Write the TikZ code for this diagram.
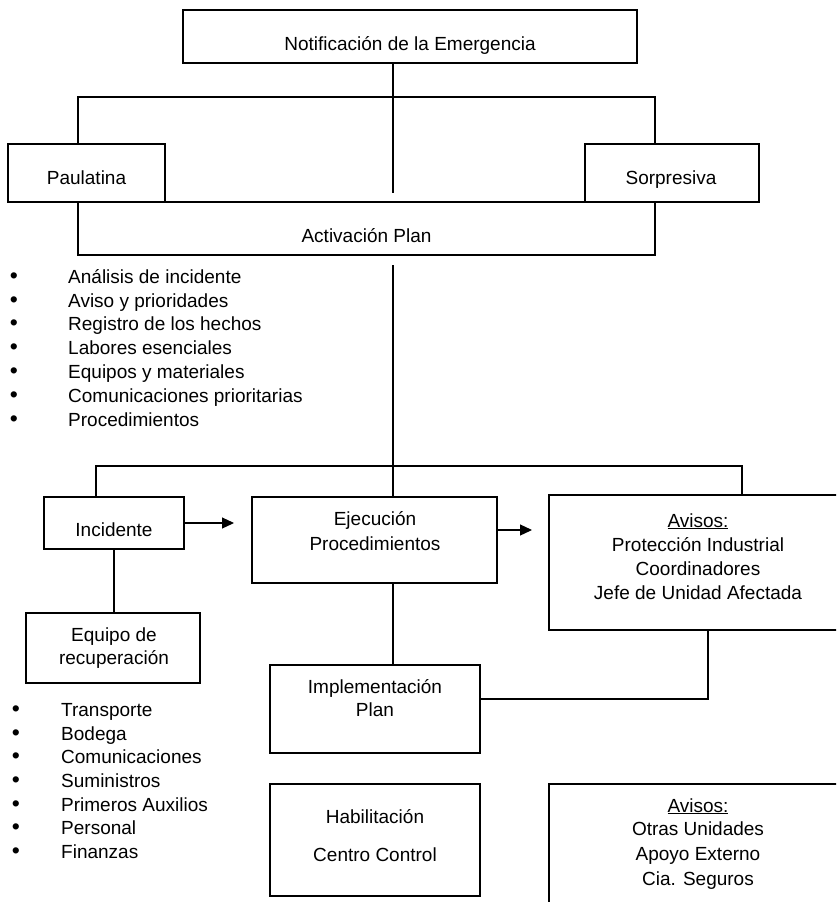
\documentclass[tikz,border=0pt]{standalone}
\usepackage{fontspec}
\setmainfont{Liberation Sans}
\usetikzlibrary{arrows.meta}
\begin{document}
\begin{tikzpicture}[x=1pt,y=-1pt,
  box/.style={draw, line width=1.3pt, inner sep=0pt, outer sep=0pt},
  conn/.style={draw, line width=1.2pt},
  arr/.style={conn, -{Triangle[length=12pt,width=11pt]}},
  lbl/.style={anchor=base, inner sep=0pt, font=\fontsize{19}{23}\selectfont},
  item/.style={anchor=base west, inner sep=0pt, font=\fontsize{19}{23}\selectfont},
  dot/.style={anchor=base, inner sep=0pt, font=\fontsize{23}{23}\selectfont}]
\useasboundingbox (0,0) rectangle (836,902);
\clip (0,0) rectangle (836,902);

% boxes
\node[box, minimum width=454pt, minimum height=53pt] (notif) at (410,36.5) {};
\node[box, minimum width=577pt, minimum height=53pt] (activ) at (366.5,228.5) {};
\node[box, minimum width=157pt, minimum height=58pt] (paul) at (86.5,173) {};
\node[box, minimum width=174pt, minimum height=58pt] (sorp) at (672,173) {};
\node[box, minimum width=140pt, minimum height=52pt] (inc) at (114,523) {};
\node[box, minimum width=245pt, minimum height=86pt] (ejec) at (374.5,540) {};
\node[box, minimum width=298pt, minimum height=135pt] (avis) at (698,562.5) {};
\node[box, minimum width=174pt, minimum height=70pt] (equipo) at (113,648) {};
\node[box, minimum width=210pt, minimum height=88pt] (impl) at (375,709) {};
\node[box, minimum width=210pt, minimum height=112pt] (habil) at (375,840) {};
\node[box, minimum width=298pt, minimum height=146pt] (avis2) at (698,857) {};

% connectors
\coordinate (stemA) at (393,193);
\coordinate (stemB) at (393,265);
\coordinate (forkL) at (78,97);
\coordinate (forkR) at (655,97);
\coordinate (fkL) at (96,466);
\coordinate (fkR) at (742,466);
\coordinate (a1) at (234,523);
\coordinate (a2) at (532,530);
\coordinate (elbow) at (708,699);

\draw[conn] (notif.south -| stemA) -- (stemA);
\draw[conn] (paul.north -| forkL) -- (forkL) -- (forkR) -- (sorp.north -| forkR);
\draw[conn] (stemB) -- (ejec.north -| stemB);
\draw[conn] (inc.north -| fkL) -- (fkL) -- (fkR) -- (avis.north -| fkR);
\draw[conn] (inc.south) -- (inc.south |- equipo.north);
\draw[arr] (inc.east |- a1) -- (a1);
\draw[arr] (ejec.east |- a2) -- (a2);
\draw[conn] (ejec.south -| stemB) -- (impl.north -| stemB);
\draw[conn] (impl.east |- elbow) -- (elbow) -- (avis.south -| elbow);

% box labels
\node[lbl] (tnotif) at (410,50) {Notificación de la Emergencia};
\node[lbl] (tpaul) at (86.5,184) {Paulatina};
\node[lbl] (tsorp) at (671,184) {Sorpresiva};
\node[lbl] (tactiv) at (366.5,242) {Activación Plan};
\node[lbl] (tinc) at (114,536.7) {Incidente};
\node[lbl] (tejec1) at (375,525) {Ejecución};
\node[lbl] (tejec2) at (375,550) {Procedimientos};
\node[lbl] (tavis1) at (698,527) {\underline{Avisos:}};
\node[lbl] (tavis2) at (698,551) {Protección Industrial};
\node[lbl] (tavis3) at (698,575) {Coordinadores};
\node[lbl] (tavis4) at (698,599) {Jefe de Unidad Afectada};
\node[lbl] (tequipo1) at (114,641.7) {Equipo de};
\node[lbl] (tequipo2) at (114,664) {recuperación};
\node[lbl] (timpl1) at (375,693) {Implementación};
\node[lbl] (timpl2) at (375,716.7) {Plan};
\node[lbl] (thabil1) at (375,823) {Habilitación};
\node[lbl] (thabil2) at (375,861.7) {Centro Control};
\node[lbl] (tavisb1) at (698,812) {\underline{Avisos:}};
\node[lbl] (tavisb2) at (698,835.7) {Otras Unidades};
\node[lbl] (tavisb3) at (698,860) {Apoyo Externo};
\node[lbl] (tavisb4) at (698,885) {Cia. Seguros};

% bullet lists
\foreach \t [count=\i] in {Análisis de incidente, Aviso y prioridades,
  Registro de los hechos, Labores esenciales, Equipos y materiales,
  Comunicaciones prioritarias, Procedimientos} {
  \node[dot] (ba\i) at (14,{283.3+(\i-1)*23.8}) {•};
  \node[item] (la\i) at (68,{283.3+(\i-1)*23.8}) {\t};
}
\foreach \t [count=\i] in {Transporte, Bodega, Comunicaciones, Suministros,
  Primeros Auxilios, Personal, Finanzas} {
  \node[dot] (bb\i) at (16,{716.7+(\i-1)*23.6}) {•};
  \node[item] (lb\i) at (61,{716.7+(\i-1)*23.6}) {\t};
}
\end{tikzpicture}
\end{document}
